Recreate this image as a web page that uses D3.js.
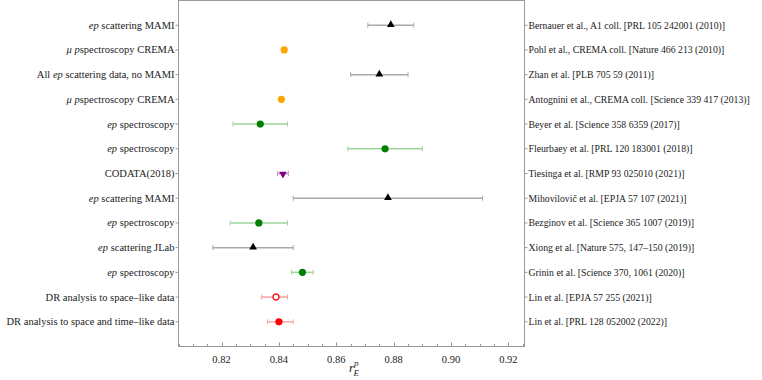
<!DOCTYPE html>
<html lang="en">
  <head>
    <meta charset="UTF-8" />
    <title>proton radius</title>
    <style>
      body { margin: 0; background: #fff; }
    </style>
  </head>
  <body>
    <div class="container"></div>
    <script src="https://d3js.org/d3.v7.min.js"></script>
    <script>
      // data, top row first
      const labels = [
        [["ep", 1], [" scattering MAMI", 0]],
        [["\u03bc p", 1], ["spectroscopy CREMA", 0]],
        [["All ", 0], ["ep", 1], [" scattering data, no MAMI", 0]],
        [["\u03bc p", 1], ["spectroscopy CREMA", 0]],
        [["ep", 1], [" spectroscopy", 0]],
        [["ep", 1], [" spectroscopy", 0]],
        [["CODATA(2018)", 0]],
        [["ep", 1], [" scattering MAMI", 0]],
        [["ep", 1], [" spectroscopy", 0]],
        [["ep", 1], [" scattering JLab", 0]],
        [["ep", 1], [" spectroscopy", 0]],
        [["DR analysis to space\u2013like data", 0]],
        [["DR analysis to space and time\u2013like data", 0]]
      ];
      const refs = [
        "Bernauer et al., A1 coll. [PRL 105 242001 (2010)]",
        "Pohl et al., CREMA coll. [Nature 466 213 (2010)]",
        "Zhan et al. [PLB 705 59 (2011)]",
        "Antognini et al., CREMA coll. [Science 339 417 (2013)]",
        "Beyer et al. [Science 358 6359 (2017)]",
        "Fleurbaey et al. [PRL 120 183001 (2018)]",
        "Tiesinga et al. [RMP 93 025010 (2021)]",
        "Mihovilovi\u010d et al. [EPJA 57 107 (2021)]",
        "Bezginov et al. [Science 365 1007 (2019)]",
        "Xiong et al. [Nature 575, 147\u2013150 (2019)]",
        "Grinin et al. [Science 370, 1061 (2020)]",
        "Lin et al. [EPJA 57 255 (2021)]",
        "Lin et al. [PRL 128 052002 (2022)]"
      ];
      const radius = [0.879, 0.84184, 0.875, 0.84087, 0.8335, 0.877, 0.8414, 0.878, 0.833, 0.831, 0.8482, 0.839, 0.840];
      const errLow = [0.008, 0.00067, 0.010, 0.00039, 0.0095, 0.013, 0.0019, 0.033, 0.010, 0.014, 0.0038, 0.005, 0.004];
      const errHigh = [0.008, 0.00067, 0.010, 0.00039, 0.0095, 0.013, 0.0019, 0.033, 0.010, 0.014, 0.0038, 0.004, 0.005];
      const kind = ["tri", "dotO", "tri", "dotO", "dotG", "dotG", "inv", "tri", "dotG", "tri", "dotG", "open", "dotR"];
      const xTicks = [0.82, 0.84, 0.86, 0.88, 0.90, 0.92];

      const colors = {
        tri: ["#000", "#aaa"],
        dotO: ["#ffa500", "#ffd27f"],
        dotG: ["#008000", "#9fd49f"],
        inv: ["#800080", "#cc8fcc"],
        open: ["#ff2020", "#f7a0a0"],
        dotR: ["#ff0000", "#f7a8a8"]
      };

      const W = 762, H = 380;
      const L = 178.5, R = 524.5, T = 0.5, B = 346.5;
      const n = radius.length;

      const svg = d3.select(".container").append("svg")
        .attr("width", W).attr("height", H)
        .attr("font-family", "Liberation Serif").attr("font-size", 10.5).attr("fill", "#222");

      const x = d3.scaleLinear().domain([0.805, 0.9256]).range([L, R]);
      const y = d3.scaleLinear().domain([0, n + 1]).range([B, T]);
      const rowY = (i) => y(n - i);

      // frame
      svg.append("rect")
        .attr("x", L).attr("y", T).attr("width", R - L).attr("height", B - T)
        .attr("fill", "none").attr("stroke", "#999").attr("stroke-width", 1);

      // bottom ticks (inside)
      const minor = d3.range(0.805, 0.926, 0.005).map((v) => +v.toFixed(3));
      svg.append("g").selectAll("line").data(minor).enter().append("line")
        .attr("x1", (d) => Math.round(x(d)) + 0.5).attr("x2", (d) => Math.round(x(d)) + 0.5)
        .attr("y1", B).attr("y2", (d) => xTicks.some((t) => Math.abs(t - d) < 1e-6) ? B - 4 : B - 2.5)
        .attr("stroke", "#999");
      svg.append("g").selectAll("text").data(xTicks).enter().append("text")
        .attr("x", (d) => x(d)).attr("y", B + 16)
        .attr("text-anchor", "middle")
        .text((d) => d.toFixed(2));

      // row ticks, outside on both sides
      const rows = d3.range(n);
      svg.append("g").selectAll("line").data(rows).enter().append("line")
        .attr("x1", L - 3).attr("x2", L).attr("y1", (i) => rowY(i)).attr("y2", (i) => rowY(i))
        .attr("stroke", "#999");
      svg.append("g").selectAll("line").data(rows).enter().append("line")
        .attr("x1", R).attr("x2", R + 3).attr("y1", (i) => rowY(i)).attr("y2", (i) => rowY(i))
        .attr("stroke", "#999");

      // left labels
      const lt = svg.append("g").selectAll("text").data(labels).enter().append("text")
        .attr("x", L - 4).attr("y", (d, i) => rowY(i) + 3.5)
        .attr("text-anchor", "end");
      lt.selectAll("tspan").data((d) => d).enter().append("tspan")
        .attr("font-style", (d) => (d[1] ? "italic" : "normal"))
        .text((d) => d[0]);

      // right labels (digits in the original font are narrower)
      svg.append("g").attr("transform", `translate(${R + 4},0) scale(0.93,1)`)
        .selectAll("text").data(refs).enter().append("text")
        .attr("x", 0).attr("y", (d, i) => rowY(i) + 3.5)
        .text((d) => d);

      // error bars
      const eb = svg.append("g").selectAll("g").data(radius).enter().append("g")
        .attr("stroke", (d, i) => colors[kind[i]][1]).attr("stroke-width", 1);
      eb.append("line")
        .attr("x1", (d, i) => x(d - errLow[i])).attr("x2", (d, i) => x(d + errHigh[i]))
        .attr("y1", (d, i) => rowY(i)).attr("y2", (d, i) => rowY(i))
        .attr("stroke-width", 1.5);
      eb.append("line")
        .attr("x1", (d, i) => x(d - errLow[i])).attr("x2", (d, i) => x(d - errLow[i]))
        .attr("y1", (d, i) => rowY(i) - 2.5).attr("y2", (d, i) => rowY(i) + 2.5);
      eb.append("line")
        .attr("x1", (d, i) => x(d + errHigh[i])).attr("x2", (d, i) => x(d + errHigh[i]))
        .attr("y1", (d, i) => rowY(i) - 2.5).attr("y2", (d, i) => rowY(i) + 2.5);

      // markers
      const tri = d3.symbol().type(d3.symbolTriangle).size(26);
      radius.forEach((d, i) => {
        const k = kind[i], c = colors[k][0];
        const cx = x(d), cy = rowY(i);
        if (k === "tri") {
          svg.append("path").attr("d", tri()).attr("transform", `translate(${cx},${cy - 0.5})`).attr("fill", c);
        } else if (k === "inv") {
          svg.append("path").attr("d", tri()).attr("transform", `translate(${cx},${cy + 0.5}) rotate(180)`).attr("fill", c);
        } else if (k === "open") {
          svg.append("circle").attr("cx", cx).attr("cy", cy).attr("r", 3)
            .attr("fill", "#fff").attr("stroke", c).attr("stroke-width", 1.4);
        } else {
          svg.append("circle").attr("cx", cx).attr("cy", cy).attr("r", 3.6).attr("fill", c);
        }
      });

      // axis label
      const al = svg.append("text").attr("x", x(0.8662)).attr("y", 372).attr("text-anchor", "middle")
        .attr("font-size", 13);
      al.append("tspan").attr("font-style", "italic").text("r");
      al.append("tspan").attr("font-style", "italic").attr("font-size", 9).attr("dy", -6).text("p");
      al.append("tspan").attr("font-style", "italic").attr("font-size", 9).attr("dx", -5).attr("dy", 10).text("E");
    </script>
  </body>
</html>
